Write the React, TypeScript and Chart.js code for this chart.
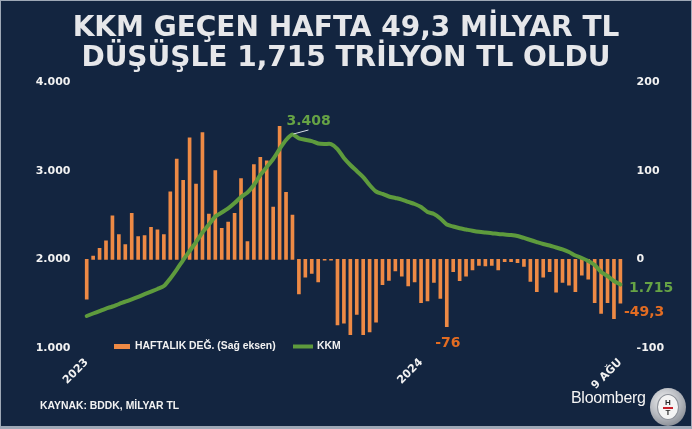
import React, { useEffect, useRef } from 'react';
import { Chart, registerables } from 'chart.js';

Chart.register(...registerables);

// Weekly change of KKM, billion TL (right axis)
const weeklyChange = [
  -45, 3.7, 12.4, 21, 49, 28, 16.5, 52, 25.6, 26.7,
  36, 33.4, 28, 76, 113, 89, 137, 85, 143, 51,
  100, 35, 42, 52, 91, 20, 107, 115, 111, 59,
  150, 75.5, 50, -39, -20, -16, -25.6, -1, -1, -74,
  -72, -85, -62, -85, -82, -71, -28.6, -23.7, -13, -19,
  -30, -25.6, -49, -47, -26, -44, -76, -14, -24, -19,
  -12, -7, -7.5, -7, -12, -2.6, -2.6, -3.7, -8, -25,
  -36.5, -20, -14, -37, -26, -29, -36.5, -18, -22.5, -49,
  -61, -49, -67, -49.3,
];

// KKM stock, billion TL (left axis)
const kkm = [
  1361, 1389, 1417, 1445, 1468, 1496, 1522, 1549, 1577, 1607,
  1636, 1665, 1699, 1785, 1885, 1992, 2094, 2195, 2303, 2393,
  2483, 2528, 2575, 2635, 2703, 2754, 2838, 2951, 3041, 3132,
  3244, 3346, 3408, 3365, 3348, 3334, 3306, 3300, 3300, 3244,
  3143, 3064, 2996, 2928, 2838, 2765, 2737, 2709, 2692, 2674,
  2647, 2624, 2590, 2534, 2511, 2460, 2393, 2370, 2350, 2336,
  2322, 2310, 2302, 2295, 2286, 2280, 2274, 2263, 2241, 2218,
  2195, 2173, 2156, 2133, 2113, 2083, 2043, 2015, 1981, 1936,
  1857, 1812, 1756, 1715,
];

// Week categories and the few labelled ticks
const weeks = weeklyChange.map((_, i) => `H${i + 1}`);
const tickPositions = [0, 52, 83];
const tickTexts = ['2023', '2024', '9 AĞU'];
// Highlighted weekly change (annotated in the chart)
const highlightedChange = -76;

const leftTicks = { min: 1000, max: 4000, step: 1000 };
const rightTicks = { min: -100, max: 200, step: 100 };

const NAVY = '#132540';
const ORANGE = '#EE8A45';
const ORANGE_TEXT = '#E26C22';
const GREEN = '#5E9B3D';
const GREEN_TEXT = '#66A345';
const WHITE = '#F2F2F2';
const DEJAVU = '"DejaVu Sans", Verdana, sans-serif';
const ARIAL = '"Liberation Sans", Arial, sans-serif';

const fmtTR = (v: number) => {
  const neg = v < 0;
  const a = Math.abs(v);
  const intPart = Math.trunc(a);
  const frac = Math.round((a - intPart) * 10);
  let s = String(intPart).replace(/\B(?=(\d{3})+(?!\d))/g, '.');
  if (frac) s += ',' + frac;
  return (neg ? '-' : '') + s;
};

const annotationPlugin = {
  id: 'annotations',
  afterDatasetsDraw(chart: any) {
    const { ctx, scales } = chart;
    const x = scales.x;
    const y = scales.y;
    const y1 = scales.y1;
    ctx.save();
    // peak label
    const peak = Math.max(...kkm);
    const pi = kkm.indexOf(peak);
    const px = x.getPixelForValue(pi);
    const py = y.getPixelForValue(peak);
    ctx.strokeStyle = '#d8dde6';
    ctx.lineWidth = 1;
    ctx.beginPath();
    ctx.moveTo(px + 1, py - 0.5);
    ctx.lineTo(px + 16, py - 4.5);
    ctx.stroke();
    ctx.font = `bold 14px ${DEJAVU}`;
    ctx.textBaseline = 'alphabetic';
    ctx.textAlign = 'left';
    ctx.fillStyle = GREEN_TEXT;
    ctx.fillText(fmtTR(peak), px - 6, py - 9.5);
    // last KKM
    const li = kkm.length - 1;
    const lx = x.getPixelForValue(li);
    const ly = y.getPixelForValue(kkm[li]);
    ctx.fillText(fmtTR(kkm[li]), lx + 8.5, ly + 7.5);
    // last weekly change
    ctx.fillStyle = ORANGE_TEXT;
    const wb = y1.getPixelForValue(weeklyChange[li]);
    ctx.fillText(fmtTR(weeklyChange[li]), lx + 3.5, wb + 12.5);
    // highlighted weekly change
    const mi = weeklyChange.indexOf(highlightedChange);
    const mx = x.getPixelForValue(mi);
    const my = y1.getPixelForValue(highlightedChange);
    ctx.textAlign = 'center';
    ctx.fillText(fmtTR(highlightedChange), mx + 1, my + 20);
    ctx.restore();
  },
};

const legendPlugin = {
  id: 'customLegend',
  afterDraw(chart: any) {
    const { ctx } = chart;
    const cy = 346.5;
    ctx.save();
    const items = chart.data.datasets;
    const barDs = items[1];
    const lineDs = items[0];
    ctx.fillStyle = ORANGE;
    ctx.fillRect(114, cy - 2.5, 16, 5);
    ctx.font = `bold 10.4px ${ARIAL}`;
    ctx.fillStyle = WHITE;
    ctx.textBaseline = 'middle';
    ctx.textAlign = 'left';
    ctx.fillText(barDs.label, 135, cy);
    ctx.strokeStyle = GREEN;
    ctx.lineWidth = 4;
    ctx.beginPath();
    ctx.moveTo(293, cy);
    ctx.lineTo(313, cy);
    ctx.stroke();
    ctx.fillText(lineDs.label, 317, cy);
    ctx.restore();
  },
};

export default function App() {
  const canvasRef = useRef<HTMLCanvasElement | null>(null);

  useEffect(() => {
    const canvas = canvasRef.current;
    if (!canvas) return;
    const tickFont = { family: DEJAVU, weight: 'bold' as const, size: 11 };
    const chart = new Chart(canvas, {
      type: 'bar',
      data: {
        labels: weeks,
        datasets: [
          {
            type: 'line',
            label: 'KKM',
            data: kkm,
            yAxisID: 'y',
            borderColor: GREEN,
            borderWidth: 4,
            pointRadius: 0,
            tension: 0.25,
            borderCapStyle: 'round',
            borderJoinStyle: 'round',
            order: 0,
          } as any,
          {
            type: 'bar',
            label: 'HAFTALIK DEĞ. (Sağ eksen)',
            data: weeklyChange,
            yAxisID: 'y1',
            backgroundColor: ORANGE,
            borderWidth: 0,
            barThickness: 3,
            order: 1,
          } as any,
        ],
      },
      options: {
        responsive: false,
        maintainAspectRatio: false,
        animation: false,
        devicePixelRatio: 1,
        layout: { padding: { top: 82, left: 0, right: 0, bottom: 0 } },
        plugins: {
          legend: { display: false },
          tooltip: { enabled: false },
          title: { display: false },
        },
        scales: {
          x: {
            grid: { display: false, drawTicks: false },
            border: { display: false },
            ticks: {
              autoSkip: false,
              minRotation: 45,
              maxRotation: 45,
              padding: 8,
              color: WHITE,
              font: tickFont,
              callback: (_v: any, i: number) => {
                const k = tickPositions.indexOf(i);
                return k >= 0 ? tickTexts[k] : '';
              },
            },
            afterFit: (s: any) => {
              s.height = 81;
            },
          },
          y: {
            position: 'left',
            min: leftTicks.min,
            max: leftTicks.max,
            grid: { display: false, drawTicks: false },
            border: { display: false },
            ticks: {
              stepSize: leftTicks.step,
              padding: 13,
              color: WHITE,
              font: tickFont,
              callback: (v: any) => fmtTR(Number(v)),
            },
            afterFit: (s: any) => {
              s.width = 83.5;
            },
          },
          y1: {
            position: 'right',
            min: rightTicks.min,
            max: rightTicks.max,
            grid: { display: false, drawTicks: false },
            border: { display: false },
            ticks: {
              stepSize: rightTicks.step,
              padding: 13,
              color: WHITE,
              font: tickFont,
              callback: (v: any) => fmtTR(Number(v)),
            },
            afterFit: (s: any) => {
              s.width = 68.4;
            },
          },
        },
      } as any,
      plugins: [annotationPlugin, legendPlugin],
    });
    return () => chart.destroy();
  }, []);

  return (
    <div
      style={{
        position: 'fixed',
        left: 0,
        top: 0,
        width: 692,
        height: 429,
        background: NAVY,
        overflow: 'hidden',
      }}
    >
      <canvas
        ref={canvasRef}
        width={692}
        height={429}
        style={{ position: 'absolute', left: 0, top: 0, width: 692, height: 429 }}
      />
      <div
        style={{
          position: 'absolute',
          left: 0,
          top: 12,
          width: 692,
          textAlign: 'center',
          fontFamily: DEJAVU,
          fontWeight: 'bold',
          fontSize: 28,
          lineHeight: '30px',
          color: '#E6E7EA',
          whiteSpace: 'nowrap',
        }}
      >
        <div>KKM GEÇEN HAFTA 49,3 MİLYAR TL</div>
        <div>DÜŞÜŞLE 1,715 TRİLYON TL OLDU</div>
      </div>
      <div
        style={{
          position: 'absolute',
          left: 40,
          top: 399.6,
          fontFamily: ARIAL,
          fontWeight: 'bold',
          fontSize: 10.4,
          lineHeight: '12px',
          color: WHITE,
          whiteSpace: 'nowrap',
        }}
      >
        KAYNAK: BDDK, MİLYAR TL
      </div>
      <div
        style={{
          position: 'absolute',
          left: 571,
          top: 389,
          fontFamily: ARIAL,
          fontSize: 16,
          lineHeight: '18px',
          color: '#F4F4F4',
          letterSpacing: -0.3,
          whiteSpace: 'nowrap',
        }}
      >
        Bloomberg
      </div>
      <div
        style={{
          position: 'absolute',
          left: 650,
          top: 388,
          width: 36,
          height: 38,
          borderRadius: '50%',
          background: 'radial-gradient(circle at 40% 35%, #f2f2f2 0%, #b9bcc2 45%, #6d727a 100%)',
        }}
      >
        <div
          style={{
            position: 'absolute',
            left: 7,
            top: 6,
            width: 22,
            height: 26,
            borderRadius: '50%',
            background: '#f4f4f4',
            border: '1px solid #8d9199',
            boxSizing: 'border-box',
            fontFamily: ARIAL,
            fontWeight: 'bold',
            fontSize: 8,
            lineHeight: '8px',
            color: '#2a2a2a',
            textAlign: 'center',
            paddingTop: 4,
          }}
        >
          <div>H</div>
          <div style={{ height: 2, background: '#c8202a', margin: '0 5px' }} />
          <div>T</div>
        </div>
      </div>
      <div style={{ position: 'absolute', left: 0, top: 0, width: 692, height: 1, background: '#9ea8b6' }} />
      <div style={{ position: 'absolute', left: 0, top: 426, width: 692, height: 3, background: '#9ea8b6' }} />
      <div style={{ position: 'absolute', left: 0, top: 0, width: 1, height: 429, background: '#9ea8b6' }} />
      <div style={{ position: 'absolute', left: 691, top: 0, width: 1, height: 429, background: '#9ea8b6' }} />
    </div>
  );
}
